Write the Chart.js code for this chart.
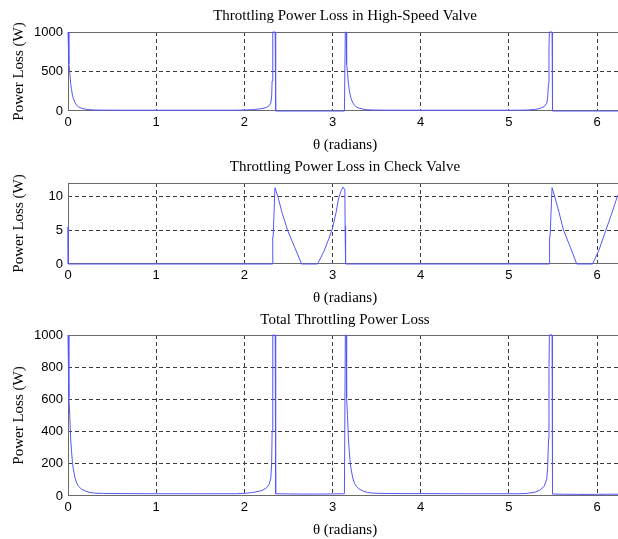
<!DOCTYPE html>
<html>
<head>
<meta charset="utf-8">
<script src="https://cdn.jsdelivr.net/npm/chart.js@4"></script>
<style>
  html, body { margin: 0; padding: 0; background: #fff; overflow: hidden; width: 618px; height: 539px; }
  #wrap { position: relative; width: 622px; height: 539px; }
  canvas { position: absolute; left: 0; }
</style>
</head>
<body>
<div id="wrap">
  <canvas id="c1" width="622" height="156" style="top:0px"></canvas>
  <canvas id="c2" width="622" height="158" style="top:151px"></canvas>
  <canvas id="c3" width="622" height="236" style="top:305px"></canvas>
</div>
<script>
// ---------- data ----------
const xTicks = [0, 1, 2, 3, 4, 5, 6];
const yTicksHS = [0, 500, 1000];
const yTicksCV = [0, 5, 10];
const yTicksTot = [0, 200, 400, 600, 800, 1000];

// High-speed valve throttling loss (W)
const thetaHS = [0, 0.01, 0.02, 0.03, 0.04, 0.05, 0.06, 0.08, 0.10, 0.12, 0.15, 0.20, 0.25, 0.30, 0.40, 0.60, 1.00, 1.50, 1.90, 2.00, 2.10, 2.20, 2.25, 2.28, 2.30, 2.31, 2.315, 2.32, 2.325, 2.35, 2.355, 3.135, 3.145, 3.155, 3.16, 3.17, 3.18, 3.19, 3.20, 3.21, 3.23, 3.25, 3.27, 3.30, 3.35, 3.40, 3.45, 3.55, 3.80, 4.50, 5.10, 5.20, 5.30, 5.35, 5.40, 5.43, 5.44, 5.45, 5.455, 5.46, 5.49, 5.495, 6.2832];
const powerHS = [1000, 600, 490, 350, 270, 205, 160, 105, 70, 52, 36, 22, 16, 13, 11, 10, 10, 10, 10, 12, 18, 30, 45, 65, 100, 190, 380, 780, 1000, 1000, 0, 0, 1000, 1000, 600, 490, 350, 270, 205, 160, 105, 70, 52, 36, 22, 16, 13, 11, 10, 10, 10, 12, 20, 32, 55, 100, 170, 350, 800, 1000, 1000, 0, 0];

// Check valve throttling loss (W)
const thetaCV = [0, 0.003, 2.32, 2.322, 2.327, 2.347, 2.38, 2.43, 2.49, 2.57, 2.65, 2.83, 2.90, 2.96, 3.00, 3.04, 3.07, 3.10, 3.12, 3.14, 3.143, 3.147, 3.149, 5.46, 5.462, 5.467, 5.49, 5.52, 5.57, 5.62, 5.70, 5.77, 5.95, 6.02, 6.10, 6.17, 6.23, 6.2832];
const powerCV = [5.5, 0, 0, 4, 4, 11.3, 10, 7.5, 5, 2.5, 0, 0, 1.8, 3.8, 5.3, 7.6, 9.8, 10.9, 11.4, 11, 5.6, 5.6, 0, 0, 4, 4, 11.3, 10, 7.6, 5, 2.4, 0, 0, 2, 5, 7.6, 10, 11.2];

// Total throttling loss (W)
const thetaTot = [0, 0.01, 0.02, 0.03, 0.04, 0.05, 0.06, 0.08, 0.10, 0.12, 0.15, 0.20, 0.25, 0.30, 0.40, 0.60, 1.00, 1.50, 1.90, 2.00, 2.10, 2.20, 2.25, 2.28, 2.30, 2.31, 2.315, 2.32, 2.325, 2.35, 2.355, 2.50, 2.66, 2.83, 3.00, 3.12, 3.135, 3.145, 3.155, 3.16, 3.17, 3.18, 3.19, 3.20, 3.21, 3.23, 3.25, 3.27, 3.30, 3.35, 3.40, 3.45, 3.55, 3.80, 4.50, 5.10, 5.20, 5.30, 5.35, 5.40, 5.43, 5.44, 5.45, 5.455, 5.46, 5.49, 5.495, 5.63, 5.78, 5.97, 6.11, 6.2832];
const powerTot = [1000, 610, 500, 360, 278, 212, 168, 112, 78, 60, 44, 30, 22, 18, 16, 15, 14, 14, 14, 16, 22, 34, 50, 72, 110, 200, 400, 800, 1000, 1000, 14, 13, 12, 12, 13, 14, 14, 1000, 1000, 610, 500, 360, 278, 212, 168, 112, 78, 60, 44, 30, 22, 18, 16, 15, 14, 14, 16, 24, 36, 60, 105, 175, 355, 800, 1000, 1000, 12, 11, 10, 10, 11, 11];

// ---------- styling ----------
const SERIF = "'Liberation Serif', 'Times New Roman', serif";
const SANS = "'Liberation Sans', Arial, sans-serif";
const LINE = 'rgb(85,85,255)';

const framePlugin = {
  id: 'frame',
  beforeDatasetsDraw(chart) {
    const a = chart.chartArea, ctx = chart.ctx;
    ctx.save();
    ctx.strokeStyle = '#6a6a6a';
    ctx.lineWidth = 1;
    ctx.strokeRect(a.left + 0.5, a.top + 0.5, a.right - a.left - 1, a.bottom - a.top - 1);
    ctx.restore();
  }
};

function zip(xs, ys) { return xs.map((x, i) => ({ x: x, y: ys[i] })); }

function makeChart(id, title, xs, ys, yMax, yTicks, titlePad) {
  const gridColor = (c) => {
    const s = c.scale;
    if (c.tick && (Math.abs(c.tick.value - s.min) < 1e-9 || Math.abs(c.tick.value - s.max) < 1e-9)) return 'rgba(0,0,0,0)';
    return '#3c3c3c';
  };
  return new Chart(document.getElementById(id), {
    type: 'line',
    data: {
      datasets: [{
        data: zip(xs, ys),
        borderColor: LINE,
        borderWidth: 1,
        pointRadius: 0,
        tension: 0,
        fill: false,
        clip: false
      }]
    },
    options: {
      responsive: false,
      animation: false,
      devicePixelRatio: 1,
      events: [],
      layout: { padding: 0 },
      plugins: {
        legend: { display: false },
        tooltip: { enabled: false },
        title: {
          display: true,
          text: title,
          fullSize: false,
          color: '#000',
          font: { family: SERIF, size: 15, weight: 'normal' },
          padding: titlePad
        }
      },
      scales: {
        x: {
          type: 'linear',
          min: 0,
          max: 2 * Math.PI,
          afterBuildTicks: (s) => { s.ticks = xTicks.map(v => ({ value: v })); },
          afterFit: (s) => { s.height = 45; },
          grid: { color: gridColor, lineWidth: 1, drawTicks: false },
          border: { display: false, dash: [4, 3] },
          ticks: { color: '#000', font: { family: SANS, size: 13 }, padding: 4, maxRotation: 0, callback: v => String(v) },
          title: { display: true, text: 'θ (radians)', color: '#000', font: { family: SERIF, size: 15 }, padding: { top: 0, bottom: 2 } }
        },
        y: {
          type: 'linear',
          min: 0,
          max: yMax,
          afterBuildTicks: (s) => { s.ticks = yTicks.map(v => ({ value: v })); },
          afterFit: (s) => { s.width = 68; },
          grid: { color: gridColor, lineWidth: 1, drawTicks: false },
          border: { display: false, dash: [4, 3] },
          ticks: { color: '#000', font: { family: SANS, size: 13 }, padding: 5, callback: v => String(v) },
          title: { display: true, text: 'Power Loss (W)', color: '#000', font: { family: SERIF, size: 15 }, padding: { top: 10, bottom: 0 } }
        }
      }
    },
    plugins: [framePlugin]
  });
}

makeChart('c1', 'Throttling Power Loss in High-Speed Valve', thetaHS, powerHS, 1000, yTicksHS, { top: 7, bottom: 7 });
makeChart('c2', 'Throttling Power Loss in Check Valve', thetaCV, powerCV, 12, yTicksCV, { top: 7, bottom: 7 });
makeChart('c3', 'Total Throttling Power Loss', thetaTot, powerTot, 1000, yTicksTot, { top: 6, bottom: 6 });
</script>
</body>
</html>
